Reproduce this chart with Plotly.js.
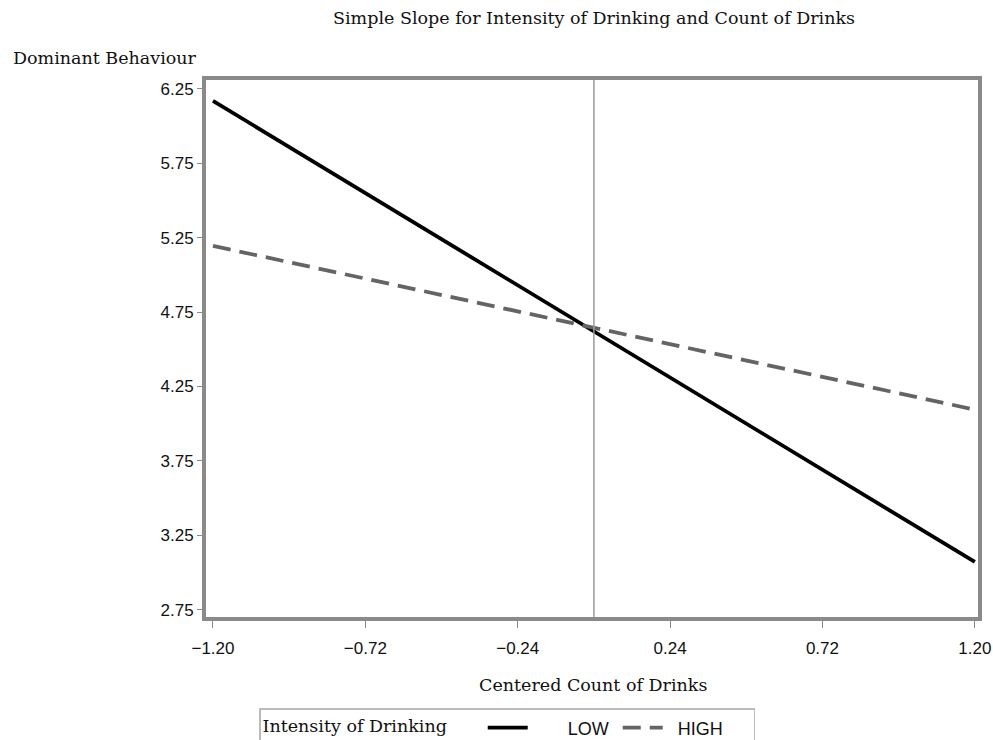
<!DOCTYPE html>
<html>
<head>
<meta charset="utf-8">
<script src="https://cdn.plot.ly/plotly-3.0.1.min.js"></script>
<style>html,body{margin:0;padding:0;background:#fff;}</style>
</head>
<body>
<div id="chart" style="width:993px;height:740px;"></div>
<script>
const xValues = [-1.20, 1.20];
const lowValues = [6.17, 3.07];
const highValues = [5.195, 4.094];
const seriesNames = ["LOW", "HIGH"];
const xTicks = [-1.20, -0.72, -0.24, 0.24, 0.72, 1.20];
const yTicks = [2.75, 3.25, 3.75, 4.25, 4.75, 5.25, 5.75, 6.25];
const refLineX = 0;

const serif = "DejaVu Serif";
const sans = "Liberation Sans, Arial, sans-serif";
const nb = (n) => "\u00a0".repeat(n);

const traces = [
  {x: xValues, y: lowValues, name: nb(7) + seriesNames[0], mode: "lines", type: "scatter",
   line: {color: "#000000", width: 3.8}},
  {x: xValues, y: highValues, name: nb(2) + seriesNames[1], mode: "lines", type: "scatter",
   line: {color: "#646464", width: 3.8, dash: "18px,9px"}}
];

const plotTop = 80, plotBottom = 617, plotH = plotBottom - plotTop;
const py = (pix) => (plotBottom - pix) / plotH;

const layout = {
  width: 993, height: 740,
  margin: {l: 206, r: 15, t: plotTop, b: 740 - plotBottom},
  paper_bgcolor: "#ffffff", plot_bgcolor: "#ffffff",
  showlegend: true,
  xaxis: {range: [-1.222, 1.21], tickvals: xTicks, tickformat: ".2f",
    showgrid: false, zeroline: false, showline: true, mirror: true,
    linecolor: "#8a8a8a", linewidth: 4, ticks: "outside", ticklen: 7, tickcolor: "#8a8a8a",
    ticklabelstandoff: 6,
    tickfont: {family: sans, size: 17, color: "#111"}},
  yaxis: {range: [2.70, 6.31], tickvals: yTicks, tickformat: ".2f",
    showgrid: false, zeroline: false, showline: true, mirror: true,
    linecolor: "#8a8a8a", linewidth: 4, ticks: "outside", ticklen: 5, tickcolor: "#8a8a8a",
    tickfont: {family: sans, size: 17, color: "#111"}},
  shapes: [{type: "line", xref: "x", yref: "paper", x0: refLineX, x1: refLineX, y0: 0, y1: 1,
    line: {color: "#999999", width: 1.5}}],
  annotations: [
    {text: "Simple Slope for Intensity of Drinking and Count of Drinks", xref: "paper", yref: "paper",
     x: 0.503, y: py(18), xanchor: "center", yanchor: "middle", showarrow: false,
     font: {family: serif, size: 17.5, color: "#111"}},
    {text: "Dominant Behaviour", xref: "paper", yref: "paper",
     x: -(206 - 11) / 772, y: py(58), xanchor: "left", yanchor: "middle", showarrow: false,
     font: {family: serif, size: 17.5, color: "#111"}},
    {text: "Centered Count of Drinks", xref: "paper", yref: "paper",
     x: 0.501, y: py(685), xanchor: "center", yanchor: "middle", showarrow: false,
     font: {family: serif, size: 17.5, color: "#111"}}
  ],
  legend: {orientation: "h", xref: "paper", yref: "container",
    x: (259 - 206) / 772, y: (740 - 708) / 740, xanchor: "left", yanchor: "top",
    bordercolor: "#bbbbbb", borderwidth: 1.5, bgcolor: "#ffffff",
    title: {text: "Intensity of Drinking     ", font: {family: serif, size: 17.5, color: "#111"}, side: "left"},
    font: {family: sans, size: 18, color: "#111"}, itemwidth: 40, tracegroupgap: 0,
    entrywidth: 80, entrywidthmode: "pixels"}
};

Plotly.newPlot("chart", traces, layout, {displayModeBar: false, staticPlot: true});
</script>
</body>
</html>
